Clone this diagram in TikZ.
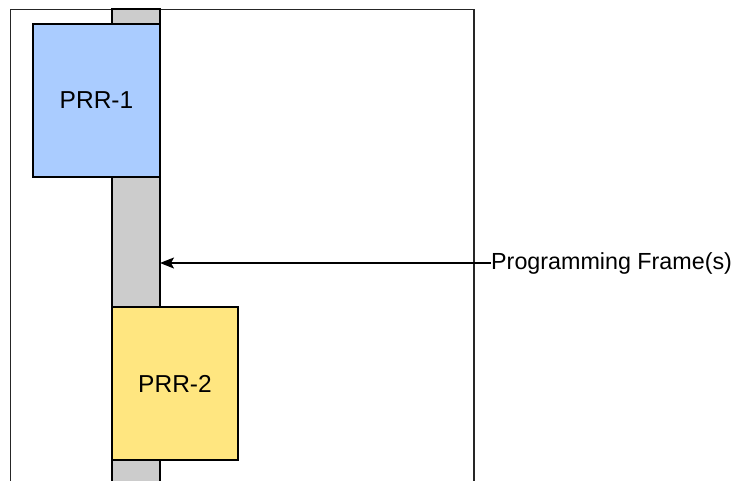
\documentclass[tikz,border=0pt]{standalone}
\usepackage{fontspec}
\setmainfont{Liberation Sans}
\usetikzlibrary{arrows.meta}
\definecolor{prrblue}{HTML}{AACCFF}
\definecolor{prryellow}{HTML}{FFE680}
\definecolor{colgray}{HTML}{CCCCCC}
\begin{document}
\begin{tikzpicture}[x=1pt,y=-1pt,
  framestyle/.style={draw=black!85, line width=1.7pt},
  region/.style={draw=black, line width=2.5pt, inner sep=0pt, outer sep=0pt,
    font=\fontsize{24.5}{28}\selectfont},
  column/.style={draw=black, line width=2.5pt, fill=colgray, inner sep=0pt, outer sep=0pt},
  lbl/.style={font=\fontsize{23.3}{27}\selectfont, inner sep=0pt, anchor=west},
  pointer/.style={draw=black, line width=1.3pt, -{Stealth[length=14pt,width=11pt,inset=3pt]}}]
\useasboundingbox (0,0) rectangle (734,480);
% outer frame (no bottom edge)
\draw[framestyle] (10.5,482) -- (10.5,9.5) -- (474,9.5) -- (474,482);
% programming frame column
\node[column, minimum width=48pt, minimum height=480pt] (col) at (136,249) {};
% regions
\node[region, fill=prrblue, minimum width=127pt, minimum height=153pt] (prr1) at (96.5,100.5) {PRR-1};
\node[region, fill=prryellow, minimum width=126pt, minimum height=153pt] (prr2) at (175,383.5) {PRR-2};
% label and arrow
\node[lbl] (pf) at (491,263) {Programming Frame(s)};
\draw[pointer] (pf.west) -- (col.east |- pf.west);
\end{tikzpicture}
\end{document}
